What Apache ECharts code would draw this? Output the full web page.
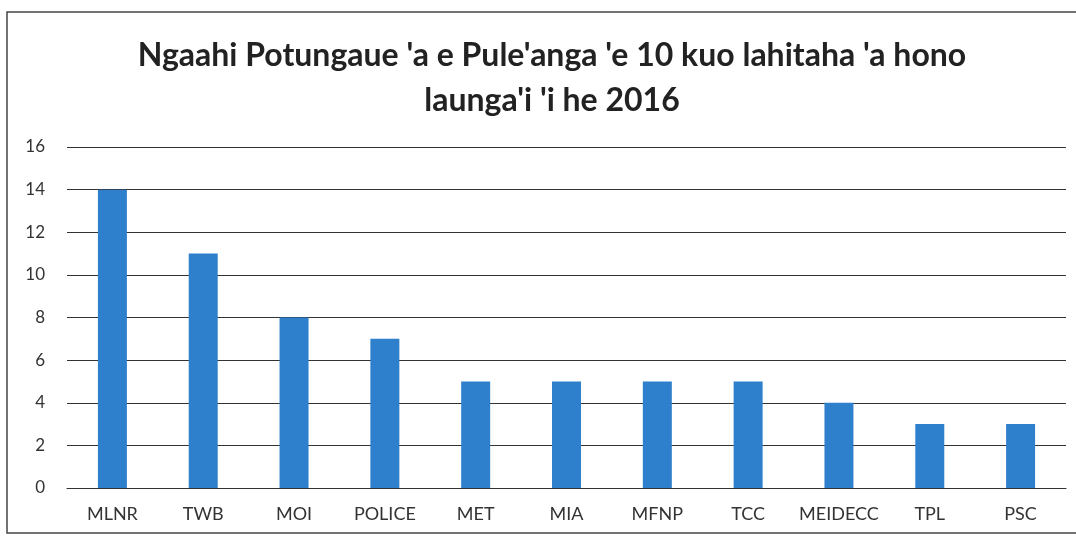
<!DOCTYPE html>
<html><head><meta charset="utf-8">
<script src="https://cdn.jsdelivr.net/npm/echarts@6/dist/echarts.min.js"></script>
<style>html,body{margin:0;padding:0;background:#fff}#c{width:1076px;height:539px}</style>
</head><body><div id="c"></div>
<script>
const categories = ['MLNR','TWB','MOI','POLICE','MET','MIA','MFNP','TCC','MEIDECC','TPL','PSC'];
const values = [14, 11, 8, 7, 5, 5, 5, 5, 4, 3, 3];
const titleText = "Ngaahi Potungaue 'a e Pule'anga 'e 10 kuo lahitaha 'a hono\nlaunga'i 'i he 2016";

const chart = echarts.init(document.getElementById('c'));
chart.setOption({
  backgroundColor: '#fff',
  animation: false,
  title: {
    text: titleText, left: 547, top: 28, textAlign: 'center',
    textStyle: {fontFamily: 'Lato', fontWeight: 'bold', fontSize: 32, color: '#222', lineHeight: 45}
  },
  graphic: [{type: 'rect', shape: {x: 7, y: 12, width: 1080, height: 521}, style: {fill: 'none', stroke: '#444', lineWidth: 1.5}, silent: true}],
  grid: {left: 67, right: 10, top: 147, bottom: 51},
  xAxis: {
    type: 'category', data: categories,
    axisLine: {show: true, lineStyle: {color: '#333', width: 1.2}},
    axisTick: {show: false},
    axisLabel: {color: '#333', fontFamily: 'Lato', fontSize: 18, margin: 17, interval: 0}
  },
  yAxis: {
    type: 'value', min: 0, max: 16, interval: 2,
    axisLine: {show: false}, axisTick: {show: false},
    splitLine: {lineStyle: {color: '#333', width: 1.2}},
    axisLabel: {color: '#333', fontFamily: 'Lato', fontSize: 17, margin: 22}
  },
  series: [{type: 'bar', data: values, barWidth: 29, itemStyle: {color: '#2f80cc'}}]
});
</script></body></html>
